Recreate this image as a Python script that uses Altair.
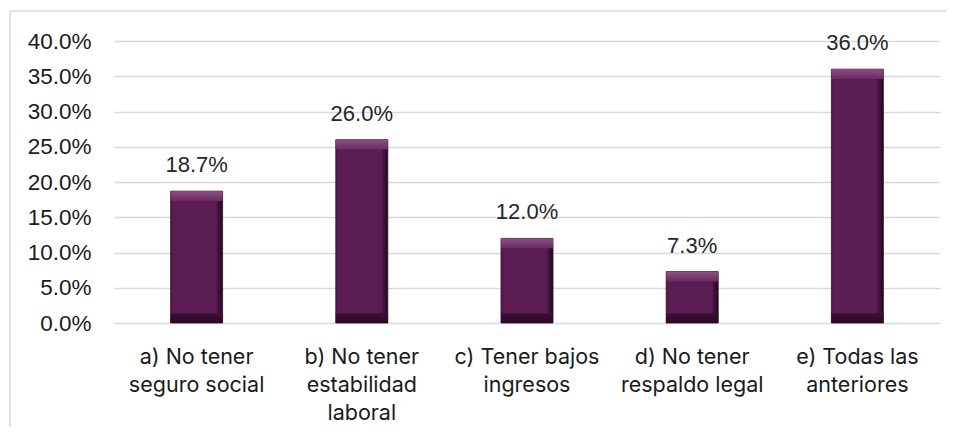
import altair as alt
import pandas as pd

categories = [
    "a) No tener|seguro social",
    "b) No tener|estabilidad|laboral",
    "c) Tener bajos|ingresos",
    "d) No tener|respaldo legal",
    "e) Todas las|anteriores",
]
values = [0.187, 0.26, 0.12, 0.073, 0.36]
y_ticks = [0, 0.05, 0.10, 0.15, 0.20, 0.25, 0.30, 0.35, 0.40]

BEVEL = 0.014

df = pd.DataFrame({"cat": categories, "val": values})

x_axis = alt.Axis(
    title=None,
    labelExpr="split(datum.label, '|')",
    labelAngle=0,
    labelFont="Inter",
    labelFontSize=21.5,
    labelLineHeight=28,
    labelColor="#1a1a1a",
    labelPadding=23,
    labelBaseline="top",
    domain=False,
    ticks=False,
    grid=False,
)
x_scale = alt.Scale(paddingInner=0.685, paddingOuter=0.3425)
y_axis = alt.Axis(
    title=None,
    values=y_ticks,
    format=".1%",
    labelFont="Liberation Sans",
    labelFontSize=22.5,
    labelColor="#1a1a1a",
    labelPadding=23,
    labelOverlap=False,
    domain=False,
    ticks=False,
    gridColor="#d9d9d9",
    gridWidth=1.5,
)
y_scale = alt.Scale(domain=[0, 0.40], nice=False)


def X():
    return alt.X("cat:N", sort=categories, scale=x_scale, axis=x_axis)


def Y(field):
    return alt.Y(field, scale=y_scale, axis=y_axis)


base = alt.Chart(df)

main = base.mark_bar(
    color=alt.Gradient(
        gradient="linear",
        x1=0, x2=1, y1=0, y2=0,
        stops=[
            alt.GradientStop(offset=0, color="#4e1747"),
            alt.GradientStop(offset=0.06, color="#5b1d53"),
            alt.GradientStop(offset=0.86, color="#5b1d53"),
            alt.GradientStop(offset=1, color="#22061e"),
        ],
    ),
    stroke="#3a0f35",
    strokeWidth=0.8,
).encode(x=X(), y=Y("val:Q"))

top_band = base.transform_calculate(
    lo="datum.val - %f" % BEVEL
).mark_bar(
    color=alt.Gradient(
        gradient="linear",
        x1=0, x2=0, y1=0, y2=1,
        stops=[
            alt.GradientStop(offset=0, color="#8e4f84"),
            alt.GradientStop(offset=1, color="#6a2a61"),
        ],
    ),
).encode(x=X(), y=Y("val:Q"), y2="lo:Q")

bottom_band = base.transform_calculate(
    lo="0", hi="%f" % BEVEL
).mark_bar(
    color=alt.Gradient(
        gradient="linear",
        x1=0, x2=0, y1=0, y2=1,
        stops=[
            alt.GradientStop(offset=0, color="#3e1039"),
            alt.GradientStop(offset=1, color="#2a0826"),
        ],
    ),
).encode(x=X(), y=Y("hi:Q"), y2="lo:Q")

labels = base.mark_text(
    baseline="alphabetic",
    dy=-19,
    font="Liberation Sans",
    fontSize=22,
    color="#262626",
).encode(
    x=X(),
    y=Y("val:Q"),
    text=alt.Text("val:Q", format=".1%"),
)

frame = pd.DataFrame({"k": [0]})
border_top = alt.Chart(frame).mark_rule(color="#d9d9d9", strokeWidth=1.5).encode(
    x=alt.value(-104), x2=alt.value(860), y=alt.value(-30)
)
border_left = alt.Chart(frame).mark_rule(color="#d9d9d9", strokeWidth=1.5).encode(
    x=alt.value(-104), y=alt.value(-30), y2=alt.value(420)
)

chart = alt.layer(
    main, top_band, bottom_band, labels, border_top, border_left
).properties(
    width=826,
    height=282,
    autosize=alt.AutoSizeParams(type="none"),
    padding={"left": 106, "top": 33, "right": 6, "bottom": 104},
).configure(
    background="white",
    view=alt.ViewConfig(stroke=None),
)

chart.save("out.html", embed_options={"renderer": "svg", "actions": False})
